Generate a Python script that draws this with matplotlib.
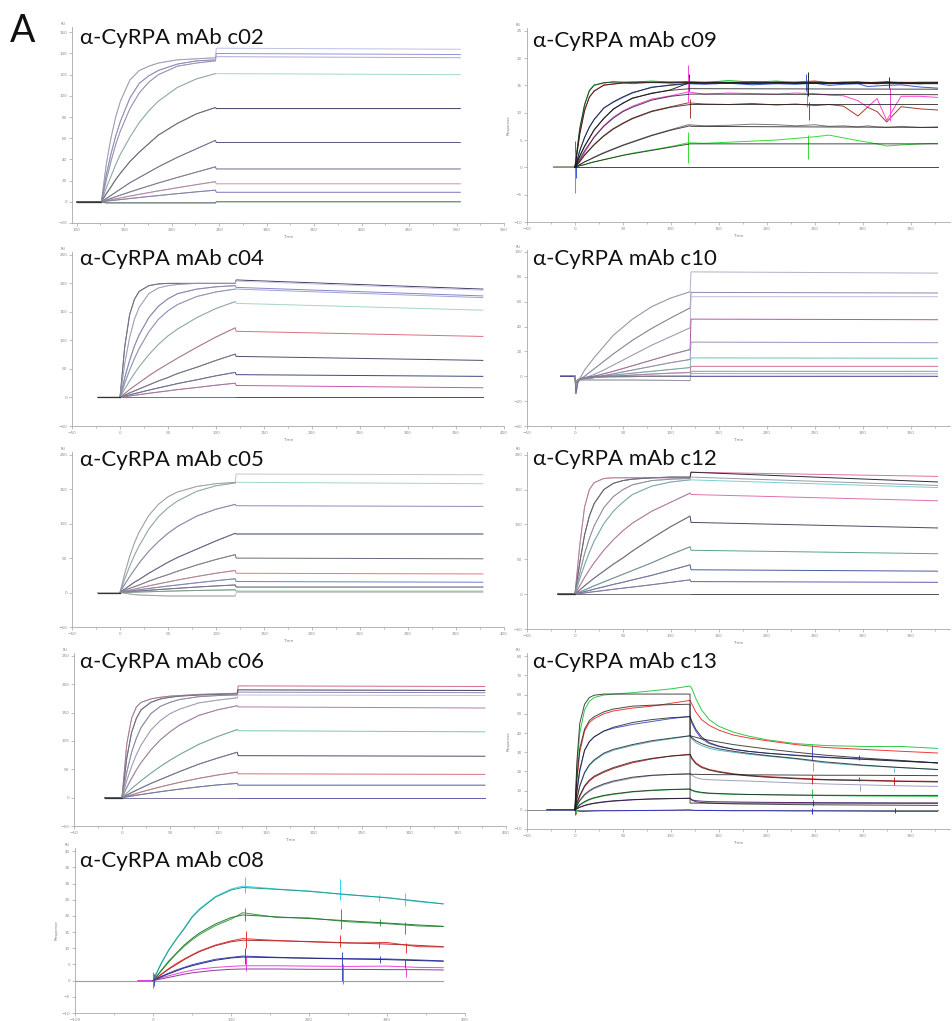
import numpy as np
import matplotlib
matplotlib.use("Agg")
import matplotlib.pyplot as plt
from matplotlib.ticker import AutoMinorLocator

# ======================= DATA =======================
# association time grid (s after injection) and dissociation grid
TA = [0, 5, 10, 15, 20, 30, 40, 50, 60, 80, 100, 120]
TD = [121, 378]
TA10 = [0, 1, 3, 5, 10, 15, 20, 30, 40, 60, 80, 100, 120]

# baseline start (s, relative to injection)
PRE_C02, PRE_C04, PRE_C05, PRE_C06 = -26, -23, -23, -18
PRE_C08, PRE_C09, PRE_C10, PRE_C12, PRE_C13 = -19, -22, -15, -18, -29
C02_T0 = 126   # c02 instrument time of injection

# ---- c02 ----
C02_ASSOC = [
    [0, 35, 60, 80, 95, 115, 124, 128, 131, 134, 135, 136],
    [0, 25, 45, 62, 76, 98, 112, 119, 124, 130, 133, 134],
    [0, 20, 38, 54, 67, 88, 103, 113, 120, 128, 131, 133],
    [0, 13, 24, 35, 45, 61, 75, 86, 95, 108, 116, 121],
    [0, 7.5, 14, 21, 27, 38, 47, 55, 63, 74, 83, 89],
    [0, 3, 6, 9, 12, 18, 23, 28, 33, 42, 50, 58],
    [0, 1.6, 3.2, 4.8, 6.3, 9.3, 12.2, 15, 17.8, 23, 28, 33],
    [0, 1, 1.9, 2.8, 3.7, 5.4, 7.1, 8.7, 10.3, 13.3, 16.2, 19],
    [0, 0.6, 1.1, 1.6, 2.1, 3.1, 4.1, 5, 5.9, 7.7, 9.4, 11],
    [0, -1, -1, -1, -1, -1, -1, -1, -1, -1, -1, -1],
]
C02_DISS = [[145, 144], [140, 139], [137, 136], [121, 120], [88, 88],
            [56, 56], [31, 31], [17, 17], [9, 9], [0, 0]]

# ---- c04 ----
C04_ASSOC = [
    [0, 90, 145, 172, 186, 196, 199, 200, 200, 200, 200, 200],
    [0, 60, 105, 137, 158, 182, 192, 196, 198, 200, 200, 200],
    [0, 35, 65, 90, 110, 140, 160, 173, 182, 190, 194, 196],
    [0, 25, 48, 68, 86, 115, 137, 152, 163, 177, 185, 190],
    [0, 15, 29, 42, 54, 75, 93, 108, 120, 140, 156, 168],
    [0, 7, 14, 20, 26, 38, 49, 59, 69, 88, 106, 122],
    [0, 4, 8, 11.5, 15, 22, 29, 35, 42, 53, 65, 76],
    [0, 2.3, 4.6, 6.7, 8.7, 12.8, 16.8, 20.5, 24.4, 31, 38, 44],
    [0, 1.3, 2.6, 3.8, 5, 7.3, 9.5, 11.6, 13.8, 17.5, 21.5, 25],
    [0, 0, 0, 0, 0, 0, 0, 0, 0, 0, 0, 0],
]
C04_DISS = [[206, 190], [204, 188], [193, 178], [190, 175], [165, 153],
            [116, 107], [72, 65], [40, 37], [21, 17], [0, 0]]

# ---- c05 ----
C05_ASSOC = [
    [0, 28, 52, 72, 88, 112, 128, 139, 146, 154, 158, 160],
    [0, 20, 38, 54, 68, 92, 110, 123, 133, 147, 155, 159],
    [0, 12, 23, 33, 43, 60, 74, 86, 96, 111, 121, 128],
    [0, 5, 10, 15, 19, 28, 36, 44, 51, 63, 75, 86],
    [0, 3, 6, 8.5, 11, 16.5, 21.5, 26, 31, 40, 48, 55],
    [0, 1.7, 3.4, 5, 6.6, 9.7, 12.6, 15.4, 18.2, 23.3, 28, 32],
    [0, 1, 2, 3, 4, 5.9, 7.7, 9.4, 11, 14.2, 17.2, 20],
    [0, 0.6, 1.1, 1.7, 2.2, 3.3, 4.3, 5.3, 6.2, 8, 9.6, 11],
    [0, 0.2, 0.4, 0.6, 0.8, 1.2, 1.6, 2, 2.4, 3, 3.5, 4],
    [0, -1, -2, -3, -3.5, -4, -4.5, -5, -5, -5, -5, -5],
]
C05_DISS = [[172, 171], [160, 158], [126, 125], [85, 85], [50, 49],
            [28, 27], [16, 15], [8, 8], [2, 2], [0, 0]]

# ---- c06 ----
C06_ASSOC = [
    [0, 95, 140, 160, 168, 174, 177, 179, 180, 182, 183, 184],
    [0, 70, 115, 140, 155, 168, 174, 177, 179, 181, 182, 183],
    [0, 45, 80, 105, 124, 148, 161, 168, 173, 178, 180, 181],
    [0, 30, 55, 76, 93, 119, 136, 148, 156, 167, 172, 176],
    [0, 18, 34, 49, 62, 84, 102, 116, 128, 145, 155, 162],
    [0, 8, 16, 23, 30, 43, 55, 66, 76, 94, 108, 120],
    [0, 4.5, 9, 13, 17, 25, 32, 39, 46, 59, 70, 80],
    [0, 2.5, 5, 7.5, 10, 14.5, 19, 23, 27, 34, 40, 45],
    [0, 1.4, 2.8, 4.2, 5.5, 8, 10.5, 12.8, 15, 19, 22.5, 25],
    [0, 0, 0, 0, 0, 0, 0, 0, 0, 0, 0, 0],
]
C06_DISS = [[197, 196], [190, 189], [186, 185], [181, 180], [160, 158],
            [118, 116], [74, 73], [42, 41], [22, 22], [0, 0]]

# ---- c10 ----
C10_ASSOC = [
    [0, -5, -4, -2, 5, 10, 15, 24, 33, 46, 56, 63, 68],
    [0, -5, -4, -3, 0, 3, 6, 12, 18, 29, 38.5, 47, 55],
    [0, -5, -4, -3, -2, 0, 1.5, 5, 9, 17, 25, 32, 39],
    [0, -5, -3, -2, -2, -1, 0, 2, 4, 8.5, 13, 17.5, 21.5],
    [0, -5, -3, -2, -2, -2, -1, 0.5, 2, 5, 8, 11, 13.5],
    [0, -5, -3, -2, -1.5, -1.5, -1, 0, 1, 2.5, 4, 5.5, 7],
    [0, -6, -3, -2, -1.5, -1.5, -1, -0.5, 0, 1, 1.8, 2.5, 3],
    [0, -8, -4, -2, -1, -1, -1, -0.5, -0.5, -0.3, 0, 0, 0],
    [0, -10, -5, -3, -3, -3, -3, -3, -3, -3, -3.2, -3.3, -3.5],
    [0, -14, -5, -2, -1, -0.5, 0, 0, 0, 0, 0, 0, 0],
]
C10_DISS = [[84, 83], [67.5, 67], [64, 64], [46, 45.5], [27.5, 27],
            [14.8, 14.5], [8, 8], [4, 4], [2.2, 2], [0, 0]]

# ---- c12 ----
C12_ASSOC = [
    [0, 70, 125, 150, 160, 166, 167, 167, 167, 167, 167, 167],
    [0, 45, 85, 112, 130, 150, 159, 163, 165, 167, 168, 168],
    [0, 30, 58, 80, 98, 124, 140, 150, 157, 163, 165, 166],
    [0, 22, 42, 60, 76, 101, 119, 132, 143, 155, 161, 164],
    [0, 12, 24, 35, 45, 63, 78, 91, 102, 119, 132, 145],
    [0, 6, 12, 17.5, 23, 33, 43, 52, 62, 80, 97, 112],
    [0, 3, 6, 9, 12, 17.5, 23, 28.5, 34, 45, 57, 68],
    [0, 1.8, 3.6, 5.4, 7.2, 10.5, 14, 17, 20.5, 27, 34.5, 42],
    [0, 0.9, 1.8, 2.7, 3.6, 5.2, 7, 8.6, 10.2, 13.5, 17, 20.5],
    [0, 0, 0, 0, 0, 0, 0, 0, 0, 0, 0, 0],
]
C12_DISS = [[175, 169], [175, 161], [168, 156], [164, 153], [143, 134],
            [103, 95], [63, 58], [35, 33], [18, 17], [0, 0]]

# ---- c09 (raw sensorgrams + 1:1 fits) ----
TR09 = [0, 2, 5, 10, 15, 20, 30, 40, 50, 60, 80, 100, 118, 135, 160, 185, 210,
        230, 250, 265, 280, 295, 305, 315, 325, 340, 360, 378]
C09_RAW = [
    [0, 3, 7.2, 11.3, 14.1, 15.1, 15.4, 15.7, 15.5, 15.6, 15.8, 15.6, 15.7, 15.5, 15.9, 15.6, 15.8, 15.5, 15.7, 15.4, 15.6, 15.5, 15.6, 15.4, 15.5, 15.6, 15.5, 15.4],
    [0, 2.5, 6.2, 10.3, 12.9, 13.9, 15.1, 15.2, 15.5, 15.3, 15.6, 15.4, 15.6, 15.5, 15.4, 15.7, 15.5, 15.6, 15.8, 15.5, 15.6, 15.7, 15.5, 15.6, 15.7, 15.5, 15.6, 15.6],
    [0, 1.2, 3.1, 5.4, 7.4, 8.7, 10.9, 11.9, 12.8, 13.6, 14.7, 15.0, 15.3, 15.2, 15.4, 15.1, 15.3, 15.2, 15.4, 15.0, 15.2, 15.3, 14.8, 14.9, 15.0, 15.1, 14.7, 14.5],
    [0, 0.9, 2.1, 3.9, 5.3, 6.9, 8.9, 10.7, 11.7, 12.7, 13.5, 14.2, 15.4, 15.4, 15.5, 15.3, 15.6, 15.4, 15.5, 15.3, 15.4, 15.5, 15.4, 15.3, 15.6, 15.4, 15.3, 15.5],
    [0, 0.5, 1.2, 2.7, 4.1, 5.6, 7.6, 9.2, 10.3, 11.2, 12.5, 13.1, 13.8, 13.4, 13.6, 13.5, 13.4, 13.6, 13.5, 13.2, 13.1, 12.2, 11.0, 12.6, 8.6, 13.0, 13.0, 12.8],
    [0, 0.4, 1, 2.3, 3.2, 4.2, 5.8, 7.1, 8.1, 9, 10.3, 11.1, 11.8, 11.6, 11.5, 11.7, 11.4, 11.6, 11.3, 11.5, 11.2, 9.4, 11.0, 10.2, 8.3, 11.1, 10.7, 10.5],
    [0, 0.2, 0.5, 1, 1.4, 1.9, 2.7, 3.4, 4.1, 4.7, 5.9, 6.9, 7.8, 7.6, 7.7, 7.9, 7.8, 7.6, 7.8, 7.5, 7.6, 7.4, 7.6, 7.4, 7.3, 7.5, 7.3, 7.4],
    [0, 0.1, 0.3, 0.5, 0.8, 1.0, 1.4, 1.8, 2.2, 2.6, 3.2, 3.8, 4.5, 4.4, 4.6, 4.8, 5.0, 5.3, 5.6, 5.9, 5.4, 4.9, 4.6, 4.3, 3.9, 4.1, 4.3, 4.4],
]
C09_FIT = [
    [0, 7, 11.5, 14, 15, 15.5, 15.6, 15.6, 15.6, 15.6, 15.6, 15.6],
    [0, 6, 10.5, 12.8, 14, 15, 15.3, 15.4, 15.5, 15.5, 15.5, 15.5],
    [0, 3, 5.5, 7.3, 8.8, 10.8, 12, 12.9, 13.7, 14.6, 15.1, 15.4],
    [0, 2, 3.8, 5.4, 6.8, 9, 10.6, 11.8, 12.6, 13.6, 14.1, 14.4],
    [0, 1.5, 3, 4.3, 5.5, 7.5, 9, 10.2, 11, 12.3, 13, 13.4],
    [0, 1.1, 2.2, 3.2, 4.1, 5.7, 7, 8, 8.9, 10.2, 11, 11.5],
    [0, 0.5, 1, 1.4, 1.8, 2.6, 3.3, 4, 4.6, 5.8, 6.8, 7.6],
    [0, 0.3, 0.5, 0.75, 1, 1.4, 1.8, 2.2, 2.5, 3.1, 3.7, 4.3],
    [0, 0, 0, 0, 0, 0, 0, 0, 0, 0, 0, 0],
]
C09_FIT_DISS = [[15.6, 15.5], [15.5, 15.4], [15.4, 15.3], [14.4, 14.3], [13.4, 13.3],
                [11.5, 11.5], [7.5, 7.3], [4.3, 4.3], [0, 0]]
# spikes: (time, low, high, curve index)
C09_SPIKES = [
    (0, -4.7, 0.5, 4), (0, -0.5, 4.8, 1), (0, -1, 3, 0), (1, -2, 2, 2),
    (118, 12, 18.8, 4), (119, 14, 17, 3), (118, 0.8, 6.5, 7), (120, 9, 12.5, 5), (119, 14, 16.5, 2),
    (243, 13, 17.5, 3), (242, 11, 16, 4), (244, 8.7, 12, 5), (243, 1.5, 6, 7), (241, 14, 17, 2),
    (327, 14.5, 16.5, 3), (328, 8.4, 14.5, 4),
]

# ---- c13 ----
TA13 = [0, 2, 5, 10, 15, 20, 30, 40, 60, 80, 100, 120]
TD13 = [120, 122, 126, 132, 140, 150, 165, 180, 200, 230, 260, 300, 340, 378]
C13_RAW_A = [
    [0, 22, 40, 52, 56.5, 58.5, 59.8, 60.3, 61, 62, 63, 64.5],
    [0, 15, 30, 41, 45.5, 47.5, 50, 51.5, 53, 54, 55.5, 57],
    [0, 9, 20, 31, 35.5, 38, 41, 42.5, 44.5, 46, 47.5, 48.7],
    [0, 5, 12, 19, 23, 25.5, 29, 31, 33.5, 35.5, 37, 38.5],
    [0, 3, 7, 12, 15, 17, 19.5, 21.5, 24.5, 26.5, 28, 29],
    [0, 2, 4.5, 7.5, 9.5, 11, 13, 14.5, 16.5, 17.8, 18.5, 19],
    [0, 1, 2.5, 4, 5.2, 6, 7.2, 8, 9.3, 10, 10.5, 10.8],
    [0, 0.5, 1.3, 2.2, 2.8, 3.3, 4, 4.5, 5.2, 5.6, 5.8, 6],
    [0, -0.5, -0.8, -0.8, -0.7, -0.6, -0.5, -0.5, -0.4, -0.3, -0.2, 0],
]
C13_RAW_D = [
    [64.5, 63, 58, 52, 47, 43.5, 40.5, 38.5, 36.5, 34.5, 33.5, 33, 33, 32],
    [57, 55, 51, 47, 44, 41.5, 39, 37.5, 36, 34, 32.5, 31.5, 30.5, 29.6],
    [48.7, 45, 41, 37, 34.5, 33, 31.5, 30.5, 29.5, 28.5, 27.5, 26.5, 25.5, 24.5],
    [38.5, 37, 35, 33.5, 32, 31, 30, 29, 28, 26.5, 24.5, 23, 22, 21],
    [29, 27, 24.5, 22.5, 21, 20, 18.8, 18, 17.3, 16.5, 15.8, 15.5, 15, 14.8],
    [19, 18, 16.8, 16, 15.7, 15.5, 15.2, 15, 14.6, 14, 13.5, 13, 12.5, 12.2],
    [10.8, 10, 9.3, 8.8, 8.5, 8.3, 8.1, 8, 7.8, 7.6, 7.4, 7.2, 7.1, 7],
    [6, 5.2, 4.8, 4.5, 4.3, 4.2, 4.1, 4, 3.9, 3.8, 3.7, 3.6, 3.5, 3.5],
    [0, -0.2, -0.3, -0.3, -0.3, -0.4, -0.5, -0.5, -0.5, -0.6, -0.6, -0.7, -0.8, -0.8],
]
C13_FIT_A = [
    [0, 25, 45, 55, 58.5, 59.7, 60.3, 60.3, 60.3, 60.3, 60.3, 60.3],
    [0, 17, 32, 42, 46.5, 48.5, 51, 52.5, 54, 54.5, 54.8, 55],
    [0, 10, 21, 31, 35.5, 38, 41, 43, 45.5, 47, 48, 48.5],
    [0, 6, 12.5, 19.5, 23.5, 26, 29.5, 31.5, 34, 36, 37.3, 38.6],
    [0, 3.5, 7.5, 12.5, 15.5, 17.5, 20, 22, 25, 26.8, 28, 28.7],
    [0, 2.2, 5, 8, 10, 11.5, 13.5, 15, 17, 18, 18.4, 18.6],
    [0, 1.1, 2.6, 4.3, 5.5, 6.3, 7.5, 8.3, 9.5, 10.2, 10.6, 10.8],
    [0, 0.6, 1.4, 2.3, 3, 3.5, 4.2, 4.7, 5.3, 5.7, 5.9, 6],
]
C13_FIT_D = [
    [3.5, 3.5, 3.5, 3.5, 3.5, 3.5, 3.5, 3.5, 3.5, 3.5, 3.5, 3.5, 3.5, 3.5],
    [38.6, 38.3, 37.8, 37, 36.2, 35.3, 34, 33, 31.7, 30, 28.5, 27, 25.7, 24.4],
    [48.5, 46, 42, 38, 35, 33.2, 31.6, 30.5, 29.5, 28.3, 27.3, 26.3, 25.3, 24.4],
    [38.6, 37.5, 36, 34.5, 33, 31.8, 30.5, 29.5, 28.3, 26.8, 25, 23.3, 22, 21],
    [28.7, 26.5, 24, 22, 20.7, 19.6, 18.5, 17.7, 17, 16.2, 15.6, 15.2, 14.8, 14.5],
    [18.6, 18.5, 18.5, 18.4, 18.4, 18.3, 18.3, 18.2, 18.2, 18.1, 18, 18, 17.9, 17.8],
    [10.8, 10.2, 9.6, 9.1, 8.7, 8.5, 8.2, 8, 7.9, 7.7, 7.6, 7.5, 7.5, 7.5],
    [6, 5, 4.2, 3.8, 3.5, 3.3, 3.1, 3, 2.9, 2.7, 2.6, 2.5, 2.4, 2.3],
]
C13_SPIKES = [
    (0, -2.6, 3.5, 2), (1, -2, 10, 1), (1, -1.5, 6, 0),
    (247, 30, 34.5, 0), (247, 26, 33, 2), (248, 20, 25, 3), (247, 13.5, 18, 4),
    (247, 6, 11, 6), (248, 2, 5, 7), (247, -2, 1, 8),
    (296, 15, 17, 4), (296, 26, 28.5, 2), (297, 10, 13, 5),
    (333, 13, 17, 4), (333, 19.5, 22, 3), (334, -1.5, 1, 8),
]

# ---- c08 ----
TA08 = [0, 10, 20, 30, 40, 50, 60, 80, 100, 115]
TD08 = [115, 160, 200, 250, 300, 340, 372]
C08_RAW_A = [
    [0, 5.2, 9.5, 13, 16.3, 19.8, 22.3, 26, 28.3, 29.2],
    [0, 2.8, 5.7, 8.3, 10.6, 12.6, 14.3, 17, 19, 21],
    [0, 1.9, 3.7, 5.3, 6.7, 8, 9.2, 11, 12.3, 13],
    [0, 1.3, 2.3, 3.3, 4.1, 4.9, 5.5, 6.6, 7.2, 7.6],
    [0, 0.8, 1.5, 2.1, 2.7, 3.2, 3.6, 4.1, 4.4, 4.6],
]
C08_RAW_D = [
    [28.9, 28.3, 27.7, 26.5, 25.7, 24.4, 23.8],
    [20.2, 19.5, 19.4, 18.2, 17.6, 16.9, 16.7],
    [12.4, 12.4, 12.0, 11.6, 11.8, 10.5, 10.4],
    [7.4, 7.2, 7.0, 6.8, 6.7, 6.4, 6.1],
    [4.7, 4.6, 4.5, 4.4, 4.5, 4.1, 4.0],
]
C08_FIT_A = [
    [0, 5, 9.3, 12.8, 16, 19.5, 22, 25.8, 28, 28.8],
    [0, 3, 6, 8.5, 11, 13, 14.8, 17.5, 19.5, 20.3],
    [0, 1.8, 3.5, 5, 6.5, 7.8, 9, 10.8, 12, 12.5],
    [0, 1.1, 2.1, 3, 3.9, 4.6, 5.2, 6.3, 7, 7.3],
    [0, 0.5, 1, 1.5, 2, 2.4, 2.7, 3.2, 3.5, 3.6],
]
C08_FIT_D = [
    [28.8, 28.2, 27.6, 26.6, 25.6, 24.6, 23.7],
    [20.3, 19.7, 19.2, 18.5, 17.8, 17.2, 16.8],
    [12.5, 12.3, 12.1, 11.7, 11.3, 10.9, 10.5],
    [7.3, 7.1, 6.9, 6.7, 6.5, 6.2, 6.0],
    [3.6, 3.6, 3.5, 3.5, 3.4, 3.4, 3.3],
]
C08_SPIKES = [
    (0, -2.3, 2.8, 4), (1, -1.5, 2, 3), (2, -0.5, 2.5, 0),
    (118, 27, 32, 0), (118, 18.5, 22.5, 1), (119, 10, 15.5, 2), (118, 5, 10, 3), (119, 3, 7.5, 4),
    (240, 25, 31.5, 0), (241, 16, 22, 1), (240, 10.5, 14, 2), (242, 0, 9, 3), (243, -1, 5, 4),
    (290, 24.5, 26.5, 0), (291, 17, 19, 1), (290, 10, 12, 2), (291, 5.5, 7.5, 3),
    (323, 23, 27, 0), (323, 14.5, 18, 1), (324, 8.5, 11.5, 2), (323, 4, 6.5, 3), (324, 1, 4, 4),
]

# axis ticks
XT_C02 = list(range(100, 551, 50))
XT_STD = list(range(-50, 401, 50))
XT_C08 = list(range(-100, 401, 100))
YT_C02 = list(range(-20, 161, 20))
YT_250 = list(range(-50, 251, 50))
YT_200 = list(range(-50, 201, 50))
YT_C08 = list(range(-10, 41, 5))
YT_C09 = list(range(-10, 26, 5))
YT_C10 = list(range(-40, 101, 20))
YT_C13 = list(range(-10, 81, 10))

TITLES = ["α-CyRPA mAb c02", "α-CyRPA mAb c04", "α-CyRPA mAb c05", "α-CyRPA mAb c06",
          "α-CyRPA mAb c08", "α-CyRPA mAb c09", "α-CyRPA mAb c10", "α-CyRPA mAb c12",
          "α-CyRPA mAb c13"]

# ======================= STYLE =======================
W, H = 952.0, 1021.0
fig = plt.figure(figsize=(9.52, 10.21), dpi=100)
TFONT = ['Lato', 'DejaVu Sans']
FITGREY = '#8a8a96'

def place(x0, x1, ytop, ybot):
    ax = fig.add_axes([x0 / W, 1 - ybot / H, (x1 - x0) / W, (ybot - ytop) / H])
    ax.patch.set_alpha(0)
    return ax

def style(ax, xlim, ylim, xt, yt, response=False, xlabel=True):
    ax.set_xlim(*xlim)
    ax.set_ylim(*ylim)
    ax.set_xticks(xt)
    ax.set_yticks(yt)
    ax.xaxis.set_minor_locator(AutoMinorLocator(2))
    for s in ['top', 'right']:
        ax.spines[s].set_visible(False)
    for s in ['left', 'bottom']:
        ax.spines[s].set_color('#a8a8a8')
        ax.spines[s].set_linewidth(0.6)
    ax.tick_params(which='both', labelsize=3, colors='#8c8c8c', length=2, width=0.4, pad=1.5)
    ax.tick_params(which='minor', length=1.2)
    if xlabel:
        ax.set_xlabel('Time', fontsize=3, color='#808080', labelpad=2.5)
    ax.text(-0.015, 1.005, 'RU', transform=ax.transAxes, fontsize=2.5, color='#808080',
            ha='right', va='bottom')
    if response:
        ax.set_ylabel('Response', fontsize=3, color='#808080', labelpad=2)

def title(x, y, s):
    fig.text(x / W, 1 - y / H, s, fontsize=16, family=TFONT, ha='left', va='baseline',
             color='#111111')

def smooth(ax, pre, ta, assoc, diss, colors, t0=0, lw=0.7):
    # pale coloured sensorgram + grey fitted association overlay
    for a, d, c in zip(assoc, diss, colors):
        t = np.array([pre] + list(ta) + TD, dtype=float) + t0
        ax.plot(t, [0] + list(a) + list(d), color=c, lw=lw, solid_joinstyle='round')
    for a in assoc:
        ax.plot(np.array(ta, dtype=float) + t0, a, color=FITGREY, lw=0.7, alpha=0.65)
    ax.plot(np.array([pre, 0], dtype=float) + t0, [0, 0], color='#333333', lw=0.9)

def spikes(ax, spk, colors, lw=0.7):
    for t, lo, hi, i in spk:
        ax.vlines(t, lo, hi, color=colors[i], lw=lw)

# ---------------- c02 ----------------
ax = place(72, 504, 27, 223)
smooth(ax, PRE_C02, TA, C02_ASSOC, C02_DISS,
       ['#c2bde6', '#8e97d8', '#b3a6da', '#a4d8cc', '#3a3d5e', '#565a7e', '#6b6a8c',
        '#e08aae', '#7d72bf', '#3f5f45'], t0=C02_T0)
style(ax, (95, 550), (-20, 165), XT_C02, YT_C02)
title(80, 44, TITLES[0])

# ---------------- c04 ----------------
ax = place(72, 504, 252, 426)
smooth(ax, PRE_C04, TA, C04_ASSOC, C04_DISS,
       ['#3b4166', '#c9c3e8', '#8c80c8', '#98a6dc', '#a2d8bc', '#d9707f', '#4b4f6b',
        '#3d4a7a', '#c65aa8', '#3f5a4a'])
style(ax, (-50, 400), (-50, 255), XT_STD, YT_250)
title(80, 265, TITLES[1])

# ---------------- c05 ----------------
ax = place(72, 504, 452, 627)
smooth(ax, PRE_C05, TA, C05_ASSOC, C05_DISS,
       ['#c4c4d6', '#a2d8bc', '#8c8cb8', '#343c6a', '#6a6a7e', '#e07a86', '#6f7fc8',
        '#4a4e66', '#70b080', '#c8c8d0'])
style(ax, (-50, 400), (-50, 204), XT_STD, YT_200)
title(80, 466, TITLES[2])

# ---------------- c06 ----------------
ax = place(74, 506, 653, 826)
smooth(ax, PRE_C06, TA, C06_ASSOC, C06_DISS,
       ['#d06a8a', '#3c3f5e', '#8a8ab8', '#c0c0d8', '#b87ab0', '#7ac8b0', '#4a4e70',
        '#d8707a', '#4a5a9a', '#6a5ab8'])
style(ax, (-50, 400), (-50, 255), XT_STD, YT_250)
title(80, 668, TITLES[3])

# ---------------- c08 ----------------
ax = place(75, 465, 848, 1013)
raw08 = ['#30d8e8', '#3aa040', '#e83838', '#4050c0', '#f040e0']
fit08 = ['#2a9a8a', '#2a7a3a', '#b03030', '#2a2a7a', '#8a3aa0']
ax.plot([-100, TD08[-1]], [0, 0], color='#a0a0a0', lw=0.8)
for a, d, c in zip(C08_RAW_A, C08_RAW_D, raw08):
    ax.plot([PRE_C08] + TA08 + TD08[1:], [0] + a + d[1:], color=c, lw=0.7)
spikes(ax, C08_SPIKES, raw08)
for a, d, c in zip(C08_FIT_A, C08_FIT_D, fit08):
    ax.plot(TA08 + TD08[1:], a + d[1:], color=c, lw=0.7)
style(ax, (-100, 400), (-10, 41), XT_C08, YT_C08, response=True, xlabel=False)
title(80, 867, TITLES[4])

# ---------------- c09 ----------------
ax = place(527, 950, 28, 222)
raw09 = ['#22cc44', '#e83030', '#3a5ad8', '#2a2a2a', '#ff44dd', '#a04030', '#7a7a7a', '#33dd33']
for r, c in zip(C09_RAW, raw09):
    ax.plot([PRE_C09] + TR09, [0] + r, color=c, lw=0.7)
spikes(ax, C09_SPIKES, raw09)
for a, d in zip(C09_FIT, C09_FIT_DISS):
    ax.plot(TA + TD, a + d, color='#1a1a1a', lw=0.7, alpha=0.8)
style(ax, (-50, 391), (-10, 25.5), XT_STD[:-1], YT_C09, response=True)
title(533, 47, TITLES[5])

# ---------------- c10 ----------------
ax = place(527, 950, 250, 426)
for a, d, c in zip(C10_ASSOC, C10_DISS,
                   ['#b0b0c8', '#8a8aa8', '#c0b8d8', '#b05a9a', '#a08ac0', '#70c0b0',
                    '#d070a0', '#70a0c0', '#a8a8b8', '#3a3a8a']):
    ax.plot([PRE_C10] + TA10 + TD, [0] + a + d, color=c, lw=0.7)
for a in C10_ASSOC:
    ax.plot(TA10, a, color=FITGREY, lw=0.7, alpha=0.6)
style(ax, (-50, 391), (-40, 101.6), XT_STD[:-1], YT_C10)
title(533, 265, TITLES[6])

# ---------------- c12 ----------------
ax = place(527, 950, 452, 629)
smooth(ax, PRE_C12, TA, C12_ASSOC, C12_DISS,
       ['#e070a0', '#2a2a3a', '#9a9aa8', '#7ad0d0', '#e070b0', '#4a4a60', '#5aa090',
        '#4a5aa0', '#6a5ab0', '#505060'])
style(ax, (-50, 391), (-50, 204), XT_STD[:-1], YT_200)
title(533, 465, TITLES[7])

# ---------------- c13 ----------------
ax = place(527, 950, 653, 829)
raw13 = ['#2ec84a', '#f03a3a', '#4a5ad0', '#5ab8c8', '#c83030', '#a0a0c0', '#30c850',
         '#7030a0', '#3030c0']
ax.plot([-50, TD13[-1]], [0, 0], color='#8a8a8a', lw=0.7)
for a, d, c in zip(C13_RAW_A, C13_RAW_D, raw13):
    ax.plot([PRE_C13] + TA13 + TD13[1:], [0] + a + d[1:], color=c, lw=0.7)
spikes(ax, C13_SPIKES, raw13)
for a, d in zip(C13_FIT_A, C13_FIT_D):
    ax.plot(TA13 + TD13, a + d, color='#1a1a1a', lw=0.7, alpha=0.8)
style(ax, (-50, 391), (-10, 81.7), XT_STD[:-1], YT_C13, response=True)
title(533, 668, TITLES[8])

# panel letter
fig.text(10 / W, 1 - 42 / H, 'A', fontsize=27, family=TFONT, ha='left', va='baseline',
         color='#111111')

fig.savefig('out.png', dpi=100)
